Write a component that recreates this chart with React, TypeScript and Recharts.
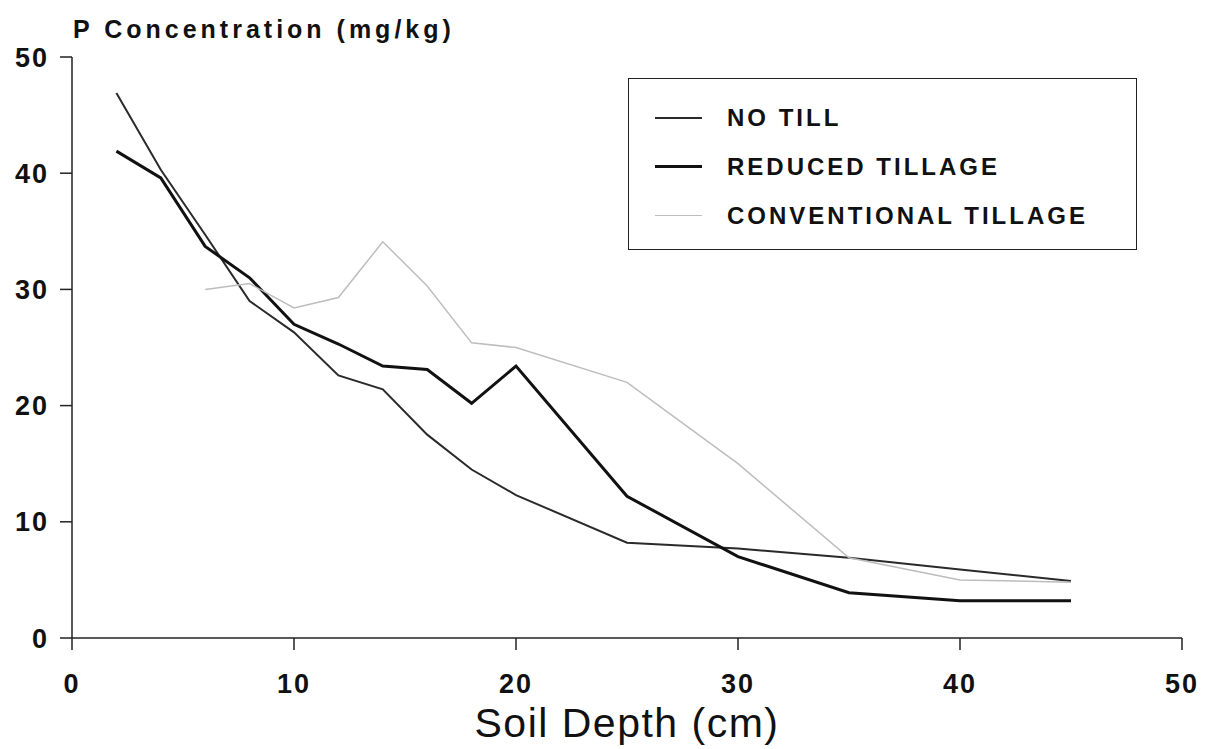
import React from "react";
import { LineChart, Line, XAxis, YAxis, Legend } from "recharts";

// soil depth (cm) at each sample
const depths = [2, 4, 6, 8, 10, 12, 14, 16, 18, 20, 25, 30, 35, 40, 45];
// P concentration (mg/kg)
const noTill = [46.9, 40.3, 34.7, 29.0, 26.3, 22.6, 21.4, 17.5, 14.5, 12.3, 8.2, 7.7, 6.9, 5.9, 4.9];
const reducedTillage = [41.9, 39.6, 33.7, 31.0, 27.0, 25.3, 23.4, 23.1, 20.2, 23.4, 12.2, 7.0, 3.9, 3.2, 3.2];
const conventionalTillage = [null, null, 30.0, 30.5, 28.4, 29.3, 34.1, 30.3, 25.4, 25.0, 22.0, 15.0, 6.9, 5.0, 4.8];

const xTicks = [0, 10, 20, 30, 40, 50];
const yTicks = [0, 10, 20, 30, 40, 50];

const data = depths.map((d, i) => ({
  depth: d,
  noTill: noTill[i],
  reduced: reducedTillage[i],
  conventional: conventionalTillage[i],
}));

const series = [
  { key: "noTill", name: "NO TILL", color: "#2a2a2a", width: 2 },
  { key: "reduced", name: "REDUCED TILLAGE", color: "#111111", width: 3 },
  { key: "conventional", name: "CONVENTIONAL TILLAGE", color: "#bdbdbd", width: 1.5 },
];

const FONT = '"Liberation Sans", Arial, sans-serif';

const renderLegend = () => (
  <div
    style={{
      width: 509,
      height: 172,
      border: "1.5px solid #222",
      boxSizing: "border-box",
      paddingTop: 14,
      fontFamily: FONT,
    }}
  >
    {series.map((s) => (
      <div key={s.key} style={{ display: "flex", alignItems: "center", height: 49 }}>
        <div style={{ marginLeft: 26, width: 47, borderTop: `${s.width}px solid ${s.color}` }} />
        <span
          style={{
            marginLeft: 25,
            fontSize: 24,
            fontWeight: "bold",
            letterSpacing: 3,
            color: "#111",
          }}
        >
          {s.name}
        </span>
      </div>
    ))}
  </div>
);

export default function App() {
  const tickStyle = { fontSize: 27, fontWeight: "bold", fill: "#111", letterSpacing: 2, fontFamily: FONT };
  return (
    <div style={{ position: "absolute", left: 0, top: 0, background: "#fff" }}>
      <LineChart
        width={1211}
        height={749}
        data={data}
        margin={{ top: 57, right: 29, bottom: 51, left: 12 }}
      >
        <XAxis
          dataKey="depth"
          type="number"
          domain={[0, 50]}
          ticks={xTicks}
          tickSize={12}
          tickMargin={24}
          height={60}
          stroke="#222"
          strokeWidth={1.5}
          tick={tickStyle}
          label={{
            content: ({ viewBox }: any) => (
              <text
                x={viewBox.x + viewBox.width / 2}
                y={737}
                textAnchor="middle"
                fontSize={41}
                letterSpacing={1.5}
                fontFamily={FONT}
                fill="#111"
              >
                Soil Depth (cm)
              </text>
            ),
          }}
        />
        <YAxis
          type="number"
          domain={[0, 50]}
          ticks={yTicks}
          tickSize={12}
          tickMargin={11}
          width={60}
          stroke="#222"
          strokeWidth={1.5}
          tick={tickStyle}
          label={{
            content: ({ viewBox }: any) => (
              <text
                x={viewBox.x + viewBox.width + 1}
                y={viewBox.y - 19}
                fontSize={25}
                fontWeight="bold"
                letterSpacing={4}
                fontFamily={FONT}
                fill="#111"
              >
                P Concentration (mg/kg)
              </text>
            ),
          }}
        />
        <Legend
          layout="vertical"
          align="center"
          verticalAlign="middle"
          content={renderLegend}
          wrapperStyle={{ left: 628, top: 78, width: 509, height: 172 }}
        />
        {series.map((s) => (
          <Line
            key={s.key}
            type="linear"
            dataKey={s.key}
            name={s.name}
            stroke={s.color}
            strokeWidth={s.width}
            dot={false}
            isAnimationActive={false}
          />
        ))}
      </LineChart>
    </div>
  );
}
